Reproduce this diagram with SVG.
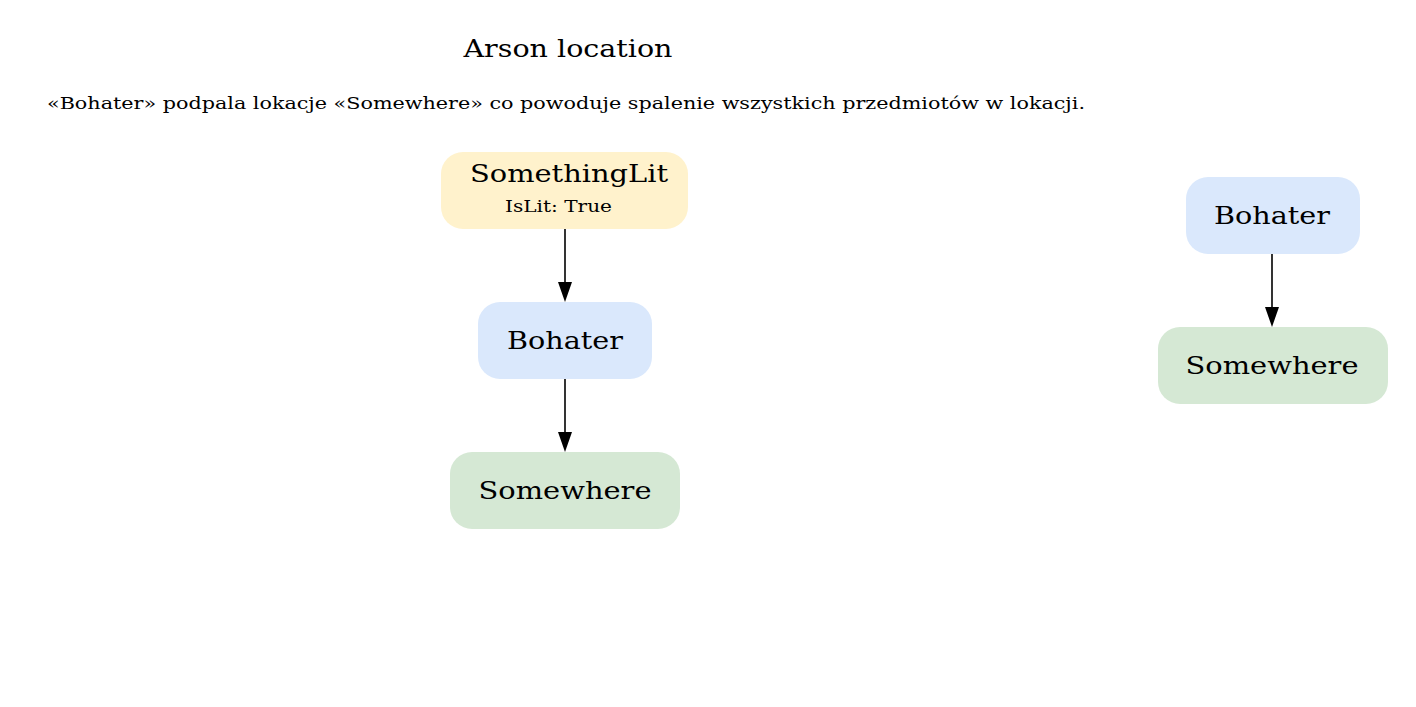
<svg xmlns="http://www.w3.org/2000/svg" width="1416" height="707" viewBox="0 0 1416 707">
<defs>
<style>
text{font-family:"DejaVu Serif","Liberation Serif",serif;fill:#000}
.t{font-size:25px;text-anchor:middle}
.s{font-size:16px}
.n{font-size:25px;text-anchor:middle}
.lit{fill:#fff2cc}
.blue{fill:#dae8fc}
.green{fill:#d5e8d4}
.e{stroke:#000;stroke-width:1.6;fill:none}
</style>
</defs>
<rect width="1416" height="707" fill="#fff"/>
<text class="t" x="568" y="57" textLength="209" lengthAdjust="spacingAndGlyphs">Arson location</text>
<text class="s" x="47" y="109" textLength="1038" lengthAdjust="spacingAndGlyphs">«Bohater» podpala lokacje «Somewhere» co powoduje spalenie wszystkich przedmiotów w lokacji.</text>
<g id="connectors">
<path class="e" d="M565,229 L565,282"/>
<path d="M558,282 L565,302 L572,282 Z"/>
<path class="e" d="M565,379 L565,432"/>
<path d="M558,432 L565,452 L572,432 Z"/>
<path class="e" d="M1272,254 L1272,307"/>
<path d="M1265,307 L1272,327 L1279,307 Z"/>
</g>
<g id="somethinglit">
<rect class="lit" x="441" y="152" width="247" height="77" rx="22"/>
<text class="n" x="569" y="182" textLength="198" lengthAdjust="spacingAndGlyphs">SomethingLit</text>
<text class="s" x="505" y="212" textLength="107" lengthAdjust="spacingAndGlyphs">IsLit: True</text>
</g>
<g id="bohater1">
<rect class="blue" x="478" y="302" width="174" height="77" rx="22"/>
<text class="n" x="565" y="349" textLength="116" lengthAdjust="spacingAndGlyphs">Bohater</text>
</g>
<g id="somewhere1">
<rect class="green" x="450" y="452" width="230" height="77" rx="22"/>
<text class="n" x="565" y="499" textLength="173" lengthAdjust="spacingAndGlyphs">Somewhere</text>
</g>
<g id="bohater2">
<rect class="blue" x="1186" y="177" width="174" height="77" rx="22"/>
<text class="n" x="1272" y="224" textLength="116" lengthAdjust="spacingAndGlyphs">Bohater</text>
</g>
<g id="somewhere2">
<rect class="green" x="1158" y="327" width="230" height="77" rx="22"/>
<text class="n" x="1272" y="374" textLength="173" lengthAdjust="spacingAndGlyphs">Somewhere</text>
</g>
</svg>
